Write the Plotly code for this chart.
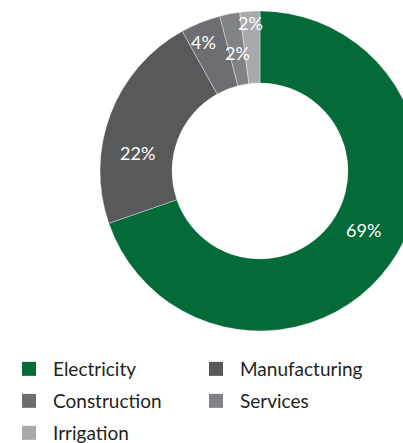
import math
import plotly.graph_objects as go

# Share of water use by sector (%)
sectors = ["Electricity", "Manufacturing", "Construction", "Services", "Irrigation"]
shares = [69, 22, 4, 2, 2]
colors = ["#046a38", "#58595b", "#6d6e71", "#808285", "#a7a9ac"]

# Label placement inside the ring: distance from centre (px) and a small
# angular nudge (deg) away from each slice's mid-angle
label_radius = [119, 124, 141, 120, 148]
label_nudge = [-5.7, -12.6, -2.0, 0.0, 0.0]

# Legend grid: column (left edge px) and row (top edge px) for each entry
legend_left = [5, 192, 5, 192, 5]
legend_top = [350, 350, 382, 382, 414]

W, H = 420, 443
PIE_X = (100, 420)   # pixel extent of the pie domain
PIE_Y = (11, 331)

fig = go.Figure()
fig.add_trace(
    go.Pie(
        labels=sectors,
        values=shares,
        sort=False,
        direction="clockwise",
        rotation=0,
        hole=0.55,
        marker=dict(colors=colors, line=dict(color="rgba(255,255,255,0.6)", width=0.6)),
        textinfo="none",
        domain=dict(x=[PIE_X[0] / W, PIE_X[1] / W], y=[1 - PIE_Y[1] / H, 1 - PIE_Y[0] / H]),
        hoverinfo="label+percent",
        showlegend=False,
    )
)

# Percentage labels, placed by the slice angles implied by the shares
cx = (PIE_X[0] + PIE_X[1]) / 2
cy = (PIE_Y[0] + PIE_Y[1]) / 2
total = sum(shares)
start = 0.0
for val, r, nudge in zip(shares, label_radius, label_nudge):
    span = 360.0 * val / total
    theta = math.radians(start + span / 2 + nudge)
    px = cx + r * math.sin(theta)
    py = cy - r * math.cos(theta)
    fig.add_annotation(
        x=px / W, y=1 - py / H, xref="paper", yref="paper",
        text=f"{val}%", showarrow=False, xanchor="center", yanchor="middle",
        font=dict(family="Lato", size=18, color="white"),
    )
    start += span

# Legend: one square-marker entry per sector, laid out on a two-column grid
legend_layout = {}
for i, (name, col) in enumerate(zip(sectors, colors)):
    key = "legend" if i == 0 else f"legend{i + 1}"
    fig.add_trace(
        go.Scatter(
            x=[None], y=[None], mode="markers", name=name,
            marker=dict(symbol="square", size=14, color=col),
            legend=key, showlegend=True, hoverinfo="skip",
        )
    )
    legend_layout[key] = dict(
        x=legend_left[i] / W, xanchor="left",
        y=1 - legend_top[i] / H, yanchor="top",
        itemwidth=38,
        bgcolor="rgba(0,0,0,0)",
        font=dict(family="Lato", size=19, color="#231f20"),
    )

fig.update_layout(
    width=W,
    height=H,
    margin=dict(l=0, r=0, t=0, b=0, autoexpand=False),
    paper_bgcolor="white",
    plot_bgcolor="white",
    font=dict(family="Lato", color="#231f20"),
    xaxis=dict(visible=False),
    yaxis=dict(visible=False),
    **legend_layout,
)

fig.write_html(
    "out.html",
    post_script="document.documentElement.style.overflow='hidden';document.body.style.overflow='hidden';",
)
